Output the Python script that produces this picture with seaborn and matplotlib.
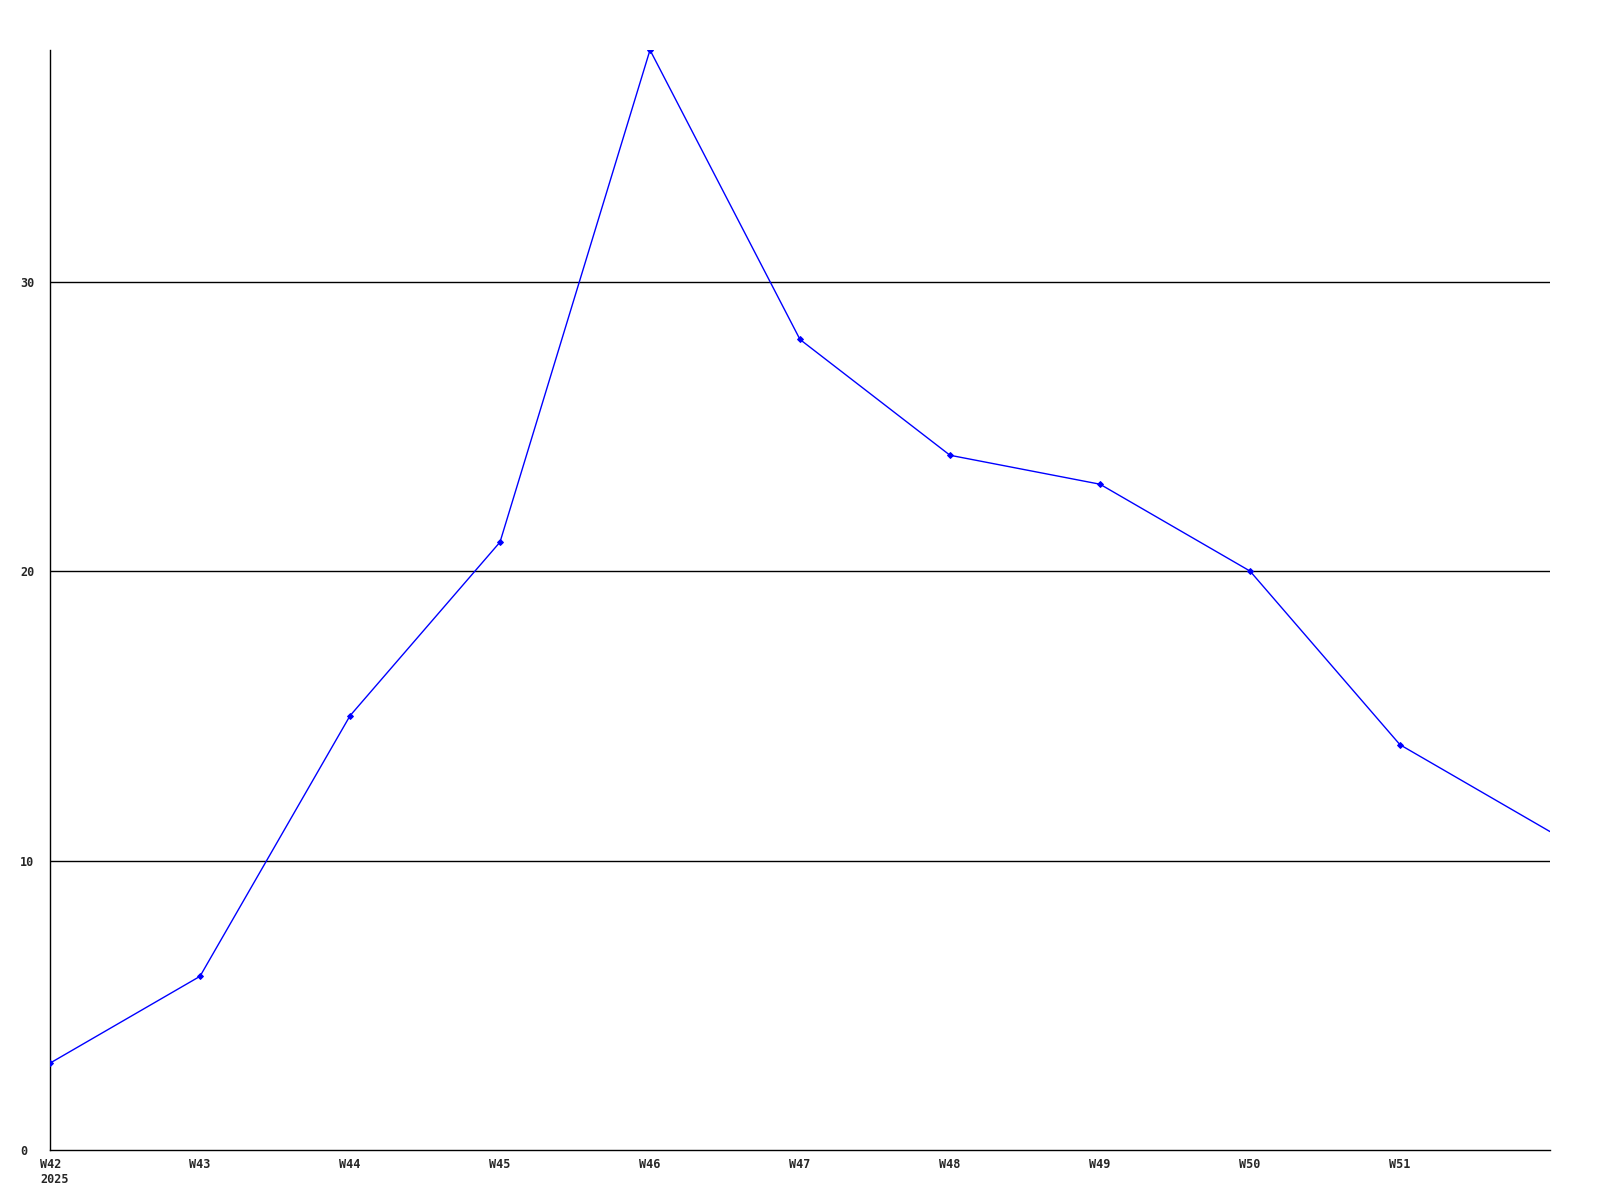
import matplotlib
matplotlib.use("Agg")
import matplotlib.pyplot as plt
import matplotlib.transforms as mtransforms
import seaborn as sns
import pandas as pd

weeks = ["W42", "W43", "W44", "W45", "W46", "W47", "W48", "W49", "W50", "W51", "W52"]
values = [3, 6, 15, 21, 38, 28, 24, 23, 20, 14, 11]
tick_labels = ["W42\n2025", "W43", "W44", "W45", "W46", "W47", "W48", "W49", "W50", "W51"]
y_ticks = [0, 10, 20, 30]

sns.set_style("white")
plt.rcParams['font.family'] = ['DejaVu Sans Mono', 'DejaVu Sans']

df = pd.DataFrame({"idx": range(len(weeks)), "week": weeks, "value": values})

fig = plt.figure(figsize=(16, 12), dpi=100)
ax = fig.add_axes([50/1600, 50/1200, 1500/1600, 1100/1200])

for yv in y_ticks[1:]:
    ax.axhline(yv, color="black", linewidth=1.0, zorder=1)

sns.lineplot(data=df, x="idx", y="value", ax=ax, color="#0000ff", linewidth=1.0,
             marker="D", markersize=3, markeredgecolor="#0000ff", zorder=3,
             markevery=list(range(len(weeks) - 1)))

ax.set_xlim(0, 10)
ax.set_ylim(0, 38)
ax.set_xticks(range(len(tick_labels)))
ax.set_xticklabels(tick_labels, fontsize=8.5, fontweight="bold", multialignment="left")
ax.set_yticks(y_ticks)
ax.set_yticklabels([str(v) for v in y_ticks], fontsize=8.5, fontweight="bold", ha="left")
ax.tick_params(axis="x", length=0, pad=6)
ax.tick_params(axis="y", length=0, pad=21.5)
first = ax.get_xticklabels()[0]
first.set_ha("left")
first.set_transform(first.get_transform() + mtransforms.ScaledTranslation(-10/100, 0, fig.dpi_scale_trans))
ax.set_xlabel("")
ax.set_ylabel("")
for s in ["top", "right"]:
    ax.spines[s].set_visible(False)
for s in ["left", "bottom"]:
    ax.spines[s].set_color("black")
    ax.spines[s].set_linewidth(1.0)

fig.savefig("out.png", dpi=100, facecolor="white")
